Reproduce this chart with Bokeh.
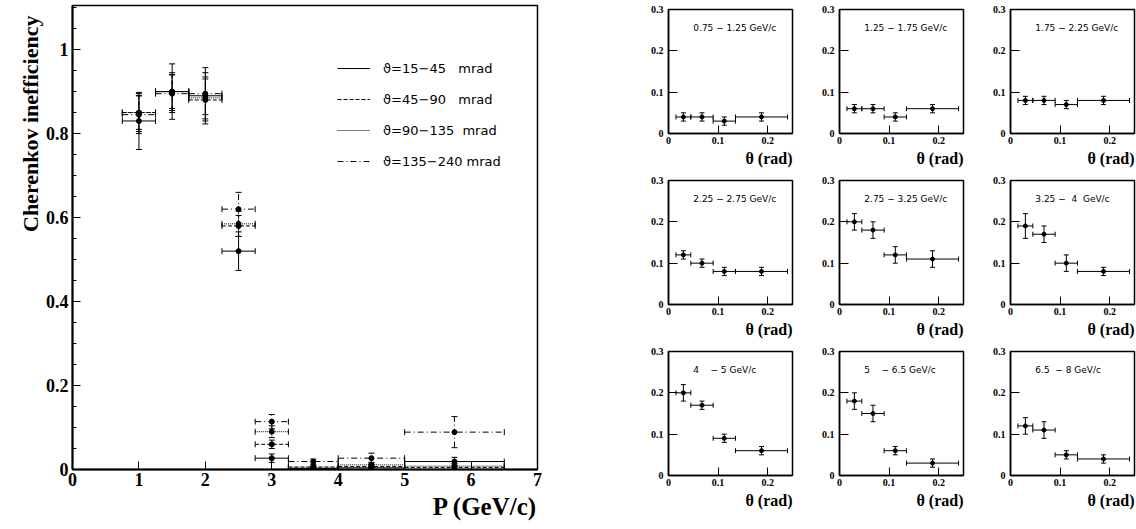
from bokeh.plotting import figure
from bokeh.models import (ColumnDataSource, Whisker, TeeHead, Legend, LegendItem,
                          FixedTicker, Label, Range1d, CustomJSTickFormatter, Title)
from bokeh.layouts import row, column
from bokeh.embed import file_html
from bokeh.resources import INLINE

# ---------------- main plot data ----------------
p_centers = [1.0, 1.5, 2.0, 2.5, 3.0, 3.625, 4.5, 5.75]
p_halfwidths = [0.25, 0.25, 0.25, 0.25, 0.25, 0.375, 0.5, 0.75]

series_labels = ["ϑ=15−45\u00a0\u00a0\u00a0mrad",
                 "ϑ=45−90\u00a0\u00a0\u00a0mrad",
                 "ϑ=90−135\u00a0\u00a0mrad",
                 "ϑ=135−240 mrad"]
ineff_15_45 = [0.83, 0.90, 0.89, 0.52, 0.027, 0.002, 0.004, 0.019]
err_15_45 = [0.068, 0.066, 0.067, 0.046, 0.010, 0.004, 0.005, 0.010]
ineff_45_90 = [0.85, 0.90, 0.88, 0.58, 0.060, 0.006, 0.007, 0.005]
err_45_90 = [0.040, 0.040, 0.050, 0.025, 0.010, 0.005, 0.005, 0.005]
ineff_90_135 = [0.85, 0.90, 0.885, 0.585, 0.090, 0.004, 0.011, 0.008]
err_90_135 = [0.045, 0.045, 0.050, 0.030, 0.014, 0.004, 0.006, 0.006]
ineff_135_240 = [0.845, 0.895, 0.895, 0.62, 0.114, 0.019, 0.027, 0.089]
err_135_240 = [0.045, 0.045, 0.050, 0.040, 0.017, 0.006, 0.012, 0.037]

main_x_ticks = [0, 1, 2, 3, 4, 5, 6, 7]
main_y_ticks = [0, 0.2, 0.4, 0.6, 0.8, 1.0]

# ---------------- small panels data ----------------
theta_centers = [0.03, 0.0675, 0.1125, 0.1875]
theta_halfwidths = [0.015, 0.0225, 0.0225, 0.0525]

panel_labels = ["0.75 − 1.25 GeV/c", "1.25 − 1.75 GeV/c", "1.75 − 2.25 GeV/c",
                "2.25 − 2.75 GeV/c", "2.75 − 3.25 GeV/c", "3.25 −\u00a0\u00a04\u00a0\u00a0GeV/c",
                "4\u00a0\u00a0\u00a0 − 5 GeV/c", "5\u00a0\u00a0\u00a0 − 6.5 GeV/c", "6.5\u00a0 − 8 GeV/c"]
pan_075_125 = [0.04, 0.04, 0.03, 0.04]
pan_075_125_err = [0.01, 0.01, 0.01, 0.01]
pan_125_175 = [0.06, 0.06, 0.04, 0.06]
pan_125_175_err = [0.01, 0.01, 0.01, 0.01]
pan_175_225 = [0.08, 0.08, 0.07, 0.08]
pan_175_225_err = [0.01, 0.01, 0.01, 0.01]
pan_225_275 = [0.12, 0.10, 0.08, 0.08]
pan_225_275_err = [0.01, 0.01, 0.01, 0.01]
pan_275_325 = [0.20, 0.18, 0.12, 0.11]
pan_275_325_err = [0.02, 0.02, 0.02, 0.02]
pan_325_4 = [0.19, 0.17, 0.10, 0.08]
pan_325_4_err = [0.03, 0.02, 0.02, 0.01]
pan_4_5 = [0.20, 0.17, 0.09, 0.06]
pan_4_5_err = [0.02, 0.01, 0.01, 0.01]
pan_5_65 = [0.18, 0.15, 0.06, 0.03]
pan_5_65_err = [0.02, 0.02, 0.01, 0.01]
pan_65_8 = [0.12, 0.11, 0.05, 0.04]
pan_65_8_err = [0.02, 0.02, 0.01, 0.01]

panel_x_ticks = [0, 0.1, 0.2]
panel_y_ticks = [0, 0.1, 0.2, 0.3]

SERIF = "Liberation Serif"
SANS = "DejaVu Sans"
fmt_code = "return String(Number(tick.toFixed(2)));"


def errbars(fig, xs, hw, ys, es, dash, cap, msize):
    src = ColumnDataSource(dict(
        x=xs, y=ys,
        xl=[c - h for c, h in zip(xs, hw)], xr=[c + h for c, h in zip(xs, hw)],
        yl=[max(v - e, 0) for v, e in zip(ys, es)], yu=[v + e for v, e in zip(ys, es)]))
    hr = fig.segment(x0="xl", y0="y", x1="xr", y1="y", source=src,
                     line_color="black", line_width=1, line_dash=dash)
    fig.segment(x0="x", y0="yl", x1="x", y1="yu", source=src,
                line_color="black", line_width=1, line_dash=dash)
    fig.add_layout(Whisker(base="y", lower="xl", upper="xr", dimension="width", source=src,
                           line_alpha=0,
                           lower_head=TeeHead(size=cap, line_width=1, line_color="black"),
                           upper_head=TeeHead(size=cap, line_width=1, line_color="black")))
    fig.add_layout(Whisker(base="x", lower="yl", upper="yu", dimension="height", source=src,
                           line_alpha=0,
                           lower_head=TeeHead(size=cap, line_width=1, line_color="black"),
                           upper_head=TeeHead(size=cap, line_width=1, line_color="black")))
    fig.scatter(x="x", y="y", source=src, size=msize, color="black", marker="circle")
    return hr


def style_axes(fig, xticks, yticks, tick_font, xlen, ylen, yminor=None):
    fig.xgrid.grid_line_color = None
    fig.ygrid.grid_line_color = None
    fig.outline_line_color = "black"
    fig.outline_line_width = 1.5
    fig.background_fill_color = "white"
    fig.border_fill_color = "white"
    xa = fig.xaxis[0]
    ya = fig.yaxis[0]
    xa.ticker = FixedTicker(ticks=xticks)
    ya.ticker = FixedTicker(ticks=yticks, minor_ticks=yminor or [])
    for ax, ln in ((xa, xlen), (ya, ylen)):
        ax.formatter = CustomJSTickFormatter(code=fmt_code)
        ax.major_tick_in = ln
        ax.major_tick_out = 0
        ax.minor_tick_in = 4
        ax.minor_tick_out = 0
        ax.axis_line_width = 1.5
        ax.axis_line_color = "black"
        ax.major_tick_line_color = "black"
        ax.minor_tick_line_color = "black"
        ax.major_label_text_font = SERIF
        ax.major_label_text_font_style = "bold"
        ax.major_label_text_font_size = tick_font
        ax.major_label_text_color = "black"
    xa.minor_tick_line_color = None
    return xa, ya


def axis_title(fig, text, place, size, standoff, offset=0):
    t = Title(text=text, align="right", text_font=SERIF, text_font_style="bold",
              text_font_size=size, text_color="black", standoff=standoff, offset=offset)
    fig.add_layout(t, place)


# ---------------- main figure ----------------
main = figure(width=628, height=529, x_range=Range1d(0, 7), y_range=Range1d(0, 1.105),
              output_backend="svg", toolbar_location=None,
              min_border_left=72, min_border_right=91, min_border_top=5, min_border_bottom=60)
minor_y = [round(0.05 * i, 2) for i in range(23)]
xa, ya = style_axes(main, main_x_ticks, main_y_ticks, "18px", 8, 8, minor_y)
xa.major_label_standoff = 3
ya.major_label_standoff = 4
xa.axis_line_width = 2
ya.axis_line_width = 2
axis_title(main, "P (GeV/c)", "below", "25px", 4)
axis_title(main, "Cherenkov inefficiency", "left", "22px", 0, 10)

dashes = ["solid", "4 2", "1 1", "6 3 1 3"]
all_vals = [ineff_15_45, ineff_45_90, ineff_90_135, ineff_135_240]
all_errs = [err_15_45, err_45_90, err_90_135, err_135_240]
items = []
for lab, vals, errs, dash in zip(series_labels, all_vals, all_errs, dashes):
    r = errbars(main, p_centers, p_halfwidths, vals, errs, dash, 6, 5)
    items.append(LegendItem(label=lab, renderers=[r]))

legend = Legend(items=items, location=(265, 298), glyph_width=33, glyph_height=20,
                label_height=20, spacing=11, label_standoff=13, padding=0, margin=0,
                border_line_alpha=0, background_fill_alpha=0,
                label_text_font=SANS, label_text_font_size="13px", label_text_color="black")
main.add_layout(legend)

# ---------------- small panels ----------------
panel_vals = [pan_075_125, pan_125_175, pan_175_225, pan_225_275, pan_275_325,
              pan_325_4, pan_4_5, pan_5_65, pan_65_8]
panel_errs = [pan_075_125_err, pan_125_175_err, pan_175_225_err, pan_225_275_err,
              pan_275_325_err, pan_325_4_err, pan_4_5_err, pan_5_65_err, pan_65_8_err]

panels = []
for i, (lab, vals, errs) in enumerate(zip(panel_labels, panel_vals, panel_errs)):
    col = i % 3
    w = 166 if col == 2 else 171
    br = 2 if col == 2 else 7
    f = figure(width=w, height=171, x_range=Range1d(0, 0.25), y_range=Range1d(0, 0.3),
               output_backend="svg", toolbar_location=None,
               min_border_left=40, min_border_right=br, min_border_top=9, min_border_bottom=38)
    fxa, fya = style_axes(f, panel_x_ticks, panel_y_ticks, "10px", 8, 9)
    fxa.major_label_standoff = 3
    fya.major_label_standoff = 5
    axis_title(f, "θ (rad)", "below", "16px", 2)
    errbars(f, theta_centers, theta_halfwidths, vals, errs, "solid", 5, 4)
    f.add_layout(Label(x=0.05, y=0.2555, text=lab, text_font=SANS, text_font_size="9px",
                       text_baseline="middle", text_color="black"))
    panels.append(f)

grid = column(row(*panels[0:3]), row(*panels[3:6]), row(*panels[6:9]))
layout = row(main, grid)

open("out.html", "w").write(file_html(layout, INLINE))
